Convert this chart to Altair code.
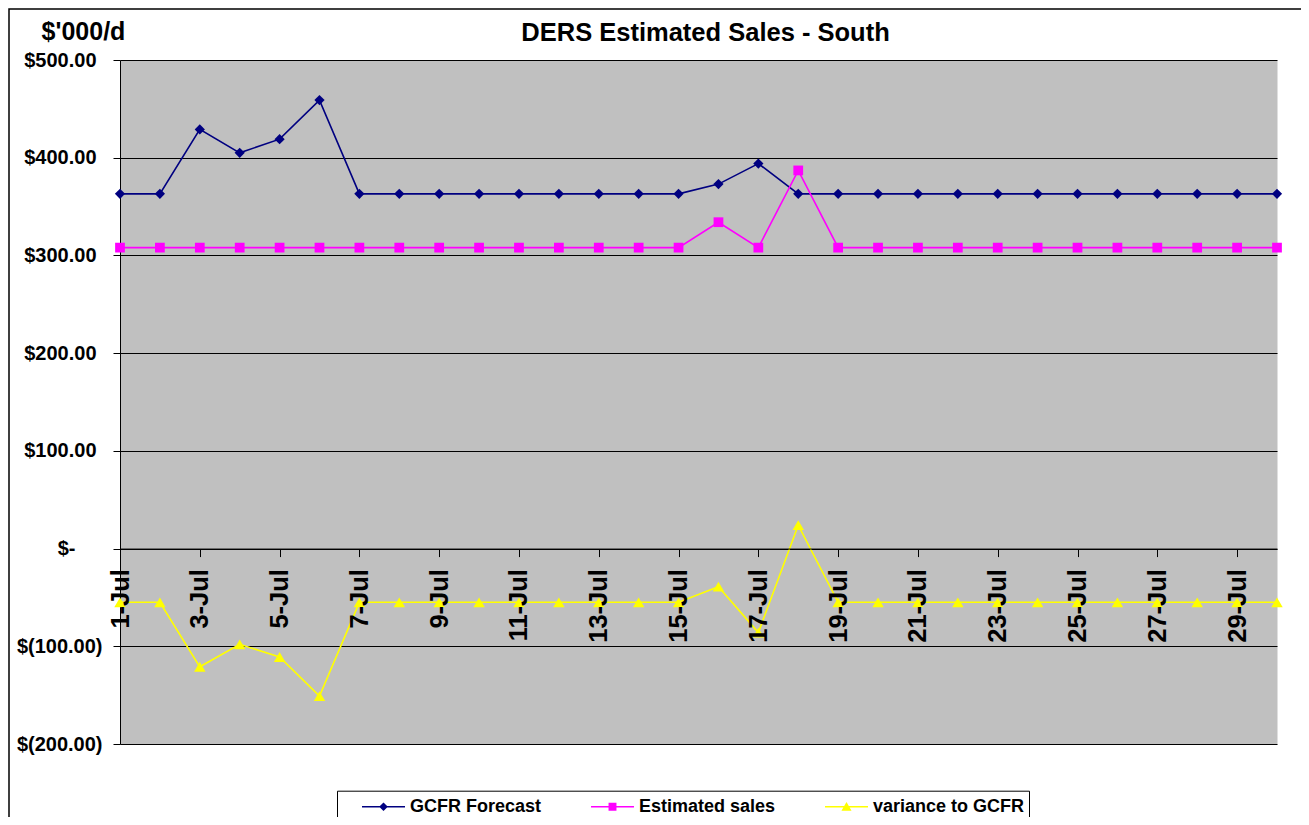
import altair as alt
import pandas as pd

# ---------------- data ----------------
days = list(range(1, 31))
gcfr_forecast = [363, 363, 429, 405, 419, 459] + [363] * 9 + [373, 394] + [363] * 13
estimated_sales = [308] * 15 + [334, 308, 387] + [308] * 12
variance_to_gcfr = [-55, -55, -121, -98, -111, -151] + [-55] * 9 + [-39, -86, 24] + [-55] * 12

chart_title = "DERS Estimated Sales - South"
y_title = "$'000/d"
series_names = ["GCFR Forecast", "Estimated sales", "variance to GCFR"]
series_colors = ["#000080", "#FF00FF", "#FFFF00"]
series_shapes = ["diamond", "square", "triangle-up"]
series_sizes = [105, 95, 130]
LINE = "M-1.79,-0.0625H1.79V0.0625H-1.79Z "
legend_paths = [
    LINE + "M0,-0.36L0.36,0L0,0.36L-0.36,0Z",
    LINE + "M-0.33,-0.33H0.33V0.33H-0.33Z",
    LINE + "M-0.42,0.33L0,-0.4L0.42,0.33Z",
]
x_tick_days = list(range(1, 30, 2))
y_ticks = [-200, -100, 0, 100, 200, 300, 400, 500]

rows = []
for name, vals in zip(series_names, [gcfr_forecast, estimated_sales, variance_to_gcfr]):
    for d, v in zip(days, vals):
        rows.append({"day": d, "value": v, "series": name})
df = pd.DataFrame(rows)

# ---------------- layout ----------------
W, H = 1157, 684
FONT = "Arial, Liberation Sans, sans-serif"
zero_offset = -(H * 200.0 / 700.0)

y_label_expr = (
    "datum.value == 0 ? '$-' : "
    "(datum.value > 0 ? '$' + format(datum.value, '.2f') : "
    "'$(' + format(-datum.value, '.2f') + ')')"
)

x_enc = alt.X(
    "day:Q",
    scale=alt.Scale(domain=[1, 30], nice=False, zero=False),
    axis=alt.Axis(
        values=x_tick_days,
        labelExpr="datum.value + '-Jul'",
        labelAngle=-90,
        labelFontSize=25.5,
        labelFontWeight="bold",
        labelFont=FONT,
        labelColor="black",
        labelPadding=12,
        labelFlush=False,
        labelOverlap=False,
        labelBound=False,
        tickSize=8,
        tickColor="black",
        tickWidth=1,
        domainColor="black",
        domainWidth=1,
        offset=zero_offset,
        grid=False,
        title=None,
        zindex=1,
    ),
)

y_enc = alt.Y(
    "value:Q",
    scale=alt.Scale(domain=[-200, 500], nice=False, zero=False),
    axis=alt.Axis(
        values=y_ticks,
        labelExpr=y_label_expr,
        labelFontSize=20,
        labelFontWeight="bold",
        labelFont=FONT,
        labelColor="black",
        labelPadding={
            "condition": [
                {"test": "datum.value == 0", "value": 38},
                {"test": "datum.value > 0", "value": 17},
            ],
            "value": 11,
        },
        labelFlush=False,
        labelOverlap=False,
        tickSize=7,
        tickColor="black",
        domainColor="black",
        domainWidth=1,
        grid=True,
        gridColor="black",
        gridWidth=1,
        gridOpacity=1,
        title=y_title,
        titleAngle=0,
        titleX=-37,
        titleY=-21,
        titleAlign="center",
        titleBaseline="alphabetic",
        titleFontSize=25,
        titleFont=FONT,
        titleFontWeight="bold",
        titleColor="black",
    ),
)

base = alt.Chart(df)
one_row = pd.DataFrame({"k": [0]})

border = alt.Chart(one_row).mark_rect(
    fill="white", fillOpacity=0, stroke="black", strokeWidth=1.5
).encode(
    x=alt.value(-111),
    x2=alt.value(W + 60),
    y=alt.value(-51),
    y2=alt.value(H + 120),
)

title_text = alt.Chart(one_row).mark_text(
    font=FONT,
    fontSize=25.5,
    fontWeight="bold",
    color="black",
    align="center",
    baseline="alphabetic",
).encode(
    x=alt.value(585.5),
    y=alt.value(-19.5),
    text=alt.value(chart_title),
)

legend_props = dict(
    title=None,
    orient="none",
    legendX=217,
    legendY=730.7,
    direction="horizontal",
    columns=3,
    fillColor="white",
    strokeColor="black",
    padding=4,
    symbolSize=576,
    symbolStrokeWidth=0,
    symbolOffset=30.5,
    labelFont=FONT,
    labelFontSize=18,
    labelFontWeight="bold",
    labelColor="black",
    labelOffset=14.5,
    columnPadding=28,
)

legend_layer = base.transform_filter("false").mark_point(
    filled=True, opacity=1
).encode(
    x=x_enc,
    y=y_enc,
    color=alt.Color(
        "series:N",
        scale=alt.Scale(domain=series_names, range=series_colors),
        legend=alt.Legend(**legend_props),
    ),
    shape=alt.Shape(
        "series:N",
        scale=alt.Scale(domain=series_names, range=legend_paths),
        legend=alt.Legend(**legend_props),
    ),
)

layers = [border, title_text, legend_layer]
for name, color, shape, size in zip(series_names, series_colors, series_shapes, series_sizes):
    sub = base.transform_filter(alt.datum.series == name)
    layers.append(
        sub.mark_line(color=color, strokeWidth=1.6).encode(x=x_enc, y=y_enc)
    )
    layers.append(
        sub.mark_point(filled=True, shape=shape, size=size, color=color, opacity=1).encode(
            x=x_enc, y=y_enc
        )
    )

chart = alt.layer(*layers).properties(
    width=W,
    height=H,
    autosize=alt.AutoSizeParams(type="none"),
    padding={"left": 112, "top": 52, "right": 24, "bottom": 73},
    background="white",
).configure_view(fill="#C0C0C0", stroke="transparent")

chart.save("out.html", embed_options={"renderer": "svg", "actions": False})
